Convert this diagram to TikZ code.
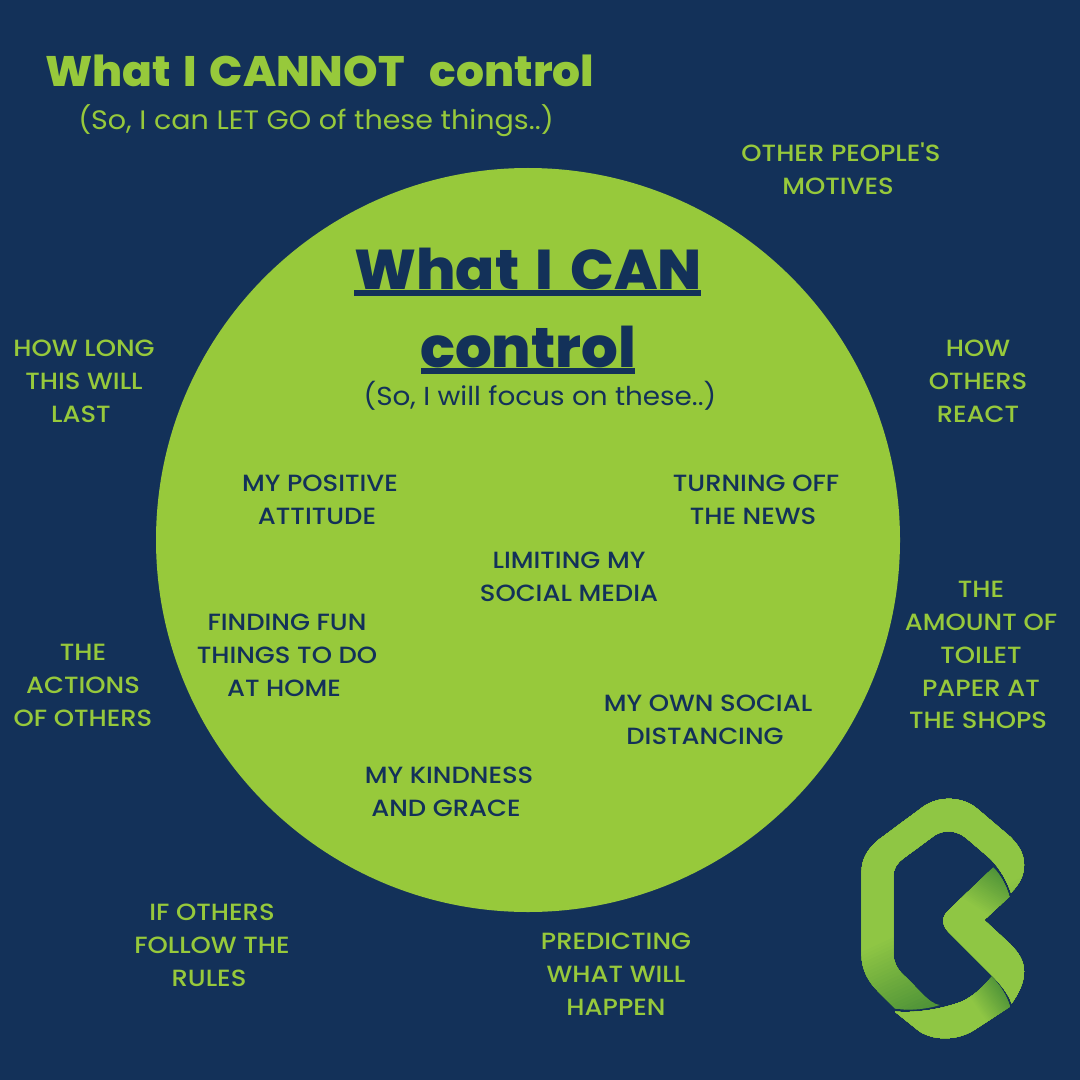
\documentclass[tikz,border=0pt]{standalone}
\usepackage{fontspec}
\setmainfont{Poppins}
\newfontfamily\bodyf[FakeStretch=1.1]{Poppins Medium}
\newfontfamily\subf[FakeStretch=1.07]{Poppins}
\newfontfamily\headf[FakeStretch=1.03,WordSpace=1.5]{Poppins ExtraBold}
\definecolor{navy}{HTML}{133159}
\definecolor{lime}{HTML}{97C93B}
\definecolor{logolime}{HTML}{8FC644}
\definecolor{limed}{HTML}{4F9338}
\newcommand{\sh}{\hspace*{4.5pt}}
% graded fill along a direction, painted inside the current clip
\newcommand{\gradfill}[4]{%
 \begin{scope}[shift={(#1,#2)},rotate=#3]
  \fill[limed] (-900,-900) rectangle (1200,900);
  \foreach \i in {1,...,24}{
   \pgfmathsetmacro{\s}{\i/24*#4}
   \pgfmathsetmacro{\p}{\i/24*100}
   \fill[logolime!\p!limed] (\s,-900) rectangle (1200,900);
  }
 \end{scope}}
\tikzset{
 outer/.style={text=lime,align=center,font=\bodyf\fontsize{17.6}{24.7}\selectfont,inner sep=0},
 inner/.style={text=navy,align=center,font=\bodyf\fontsize{17.6}{24.7}\selectfont,inner sep=0},
 rule/.style={fill=navy},
}
\begin{document}
\begin{tikzpicture}[x=0.75pt,y=-0.75pt]
\useasboundingbox (0,0) rectangle (1080,1080);
\fill[navy] (0,0) rectangle (1080,1080);
\node[circle,fill=lime,minimum size=558pt,inner sep=0] (c) at (528,540) {};
\node[anchor=west,text=lime,inner sep=0,font=\headf\fontsize{32}{36}\selectfont] (t1) at (45,71) {What I CANNOT\ \ control};
\node[text=lime,inner sep=0,font=\subf\fontsize{20}{24}\selectfont] (t2) at (316,121) {(So, I can LET GO of these things..)};
\node[text=navy,inner sep=0,font=\headf\fontsize{42}{58}\selectfont,align=center] (t3) at (528,308) {What I CAN\\control};
\fill[rule] (354,290.5) rectangle (701,295.7);
\fill[rule] (421,368.3) rectangle (635,373.6);
\node[text=navy,inner sep=0,font=\subf\fontsize{19.5}{24}\selectfont] (t4) at (540,396) {(So, I will focus on these..)};
\node[outer] (a) at (841,169) {OTHER PEOPLE'S\\MOTIVES\sh};
\node[outer] (b) at (84,381) {HOW LONG\\THIS WILL\\LAST\sh};
\node[outer] (d) at (978,381) {HOW\\OTHERS\\REACT};
\node[outer] (e) at (83,685) {THE\\ACTIONS\\OF OTHERS};
\node[outer] (f) at (981,655) {THE\\AMOUNT OF\\TOILET\\PAPER AT\sh\\THE SHOPS\sh};
\node[outer] (g) at (212,945) {IF OTHERS\\FOLLOW THE\\RULES\sh};
\node[outer] (h) at (616,974) {PREDICTING\\WHAT WILL\\HAPPEN};
\node[inner] (i) at (320,500) {MY POSITIVE\\ATTITUDE\sh};
\node[inner] (j) at (756,500) {TURNING OFF\\THE NEWS\sh};
\node[inner] (k) at (569,577) {LIMITING MY\\SOCIAL MEDIA};
\node[inner] (l) at (287,655) {FINDING FUN\\THINGS TO DO\\AT HOME\sh};
\node[inner] (m) at (708,720) {MY OWN SOCIAL\\DISTANCING\sh};
\node[inner] (n) at (449,792) {MY KINDNESS\\AND GRACE\sh};
% logo: zoom-crop coordinates (3 units = 1 px)
\begin{scope}[shift={(840,790)},x=0.25pt,y=-0.25pt]
 \def\pieceA{(300,645) .. controls (265,642) and (230,590) .. (190,555) .. controls (170,535) and (160,515) .. (160,490) -- (160,260) .. controls (160,235) and (170,220) .. (190,205) -- (285,135) .. controls (315,118) and (350,120) .. (380,145) -- (450,205) .. controls (480,235) and (500,270) .. (513,308) .. controls (540,280) and (552,255) .. (552,225) .. controls (552,190) and (535,165) .. (510,140) -- (410,55) .. controls (365,18) and (295,18) .. (250,50) -- (115,150) .. controls (85,175) and (65,205) .. (65,245) -- (65,495) .. controls (65,540) and (85,575) .. (115,605) -- (165,655) .. controls (210,662) and (260,658) .. (300,645) -- cycle}
 \def\pieceB{(460,232) .. controls (482,255) and (498,285) .. (508,320) -- (432,390) -- (510,462) .. controls (538,490) and (552,515) .. (552,545) .. controls (552,580) and (535,610) .. (515,640) .. controls (505,610) and (480,580) .. (455,555) -- (325,425) .. controls (305,405) and (305,380) .. (325,362) -- cycle}
 \def\pieceC{(165,665) .. controls (220,670) and (300,660) .. (365,635) .. controls (400,620) and (430,590) .. (455,560) .. controls (480,585) and (500,615) .. (510,650) -- (410,715) .. controls (360,750) and (290,755) .. (240,725) .. controls (215,705) and (190,685) .. (165,665) -- cycle}
 \begin{scope}
  \clip \pieceA;
  \gradfill{260}{660}{115}{240}
 \end{scope}
 \begin{scope}
  \clip \pieceB;
  \gradfill{470}{235}{237}{130}
 \end{scope}
 \begin{scope}
  \clip \pieceC;
  \gradfill{490}{590}{214}{100}
 \end{scope}
\end{scope}
\end{tikzpicture}
\end{document}
